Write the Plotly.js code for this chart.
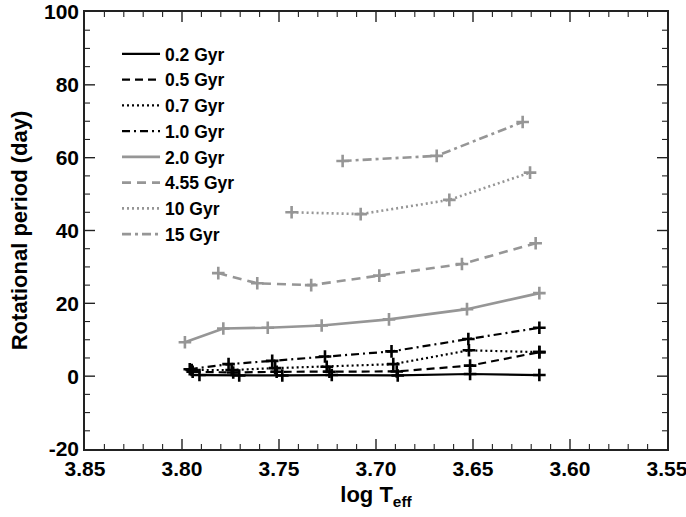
<!DOCTYPE html>
<html>
<head>
<meta charset="utf-8">
<script src="https://cdn.plot.ly/plotly-3.0.1.min.js"></script>
<style>html,body{margin:0;padding:0;background:#fff;}#chart{width:686px;height:517px;}</style>
</head>
<body>
<div id="chart"></div>
<script>
// ---- data ----
const ages = ["0.2 Gyr", "0.5 Gyr", "0.7 Gyr", "1.0 Gyr", "2.0 Gyr", "4.55 Gyr", "10 Gyr", "15 Gyr"];

const teff_02 = [3.791, 3.7705, 3.7483, 3.7228, 3.6888, 3.6515, 3.6158];
const per_02  = [0.3, 0.2, 0.2, 0.3, 0.2, 0.6, 0.3];

const teff_05 = [3.7945, 3.7736, 3.7512, 3.724, 3.6893, 3.6515, 3.6158];
const per_05  = [1.2, 1.0, 1.2, 1.2, 1.3, 2.9, 6.6];

const teff_07 = [3.795, 3.7744, 3.752, 3.7254, 3.6911, 3.6521, 3.6158];
const per_07  = [1.7, 1.7, 2.2, 2.6, 3.3, 7.1, 6.6];

const teff_10 = [3.796, 3.776, 3.7535, 3.7263, 3.692, 3.6524, 3.6158];
const per_10  = [1.9, 3.3, 4.2, 5.4, 6.8, 10.2, 13.3];

const teff_20 = [3.7985, 3.7787, 3.7558, 3.728, 3.6933, 3.6531, 3.6158];
const per_20  = [9.3, 13.1, 13.3, 13.9, 15.6, 18.4, 22.8];

const teff_455 = [3.7813, 3.7612, 3.7334, 3.6983, 3.6557, 3.6177];
const per_455  = [28.3, 25.5, 25.0, 27.6, 30.8, 36.5];

const teff_100 = [3.7435, 3.7079, 3.6622, 3.6206];
const per_100  = [45.0, 44.5, 48.4, 55.9];

const teff_150 = [3.7172, 3.6687, 3.6244];
const per_150  = [59.1, 60.5, 69.8];

const xTickVals = [3.85, 3.80, 3.75, 3.70, 3.65, 3.60, 3.55];
const xTickText = ["3.85", "3.80", "3.75", "3.70", "3.65", "3.60", "3.55"];
const yTickVals = [-20, 0, 20, 40, 60, 80, 100];
const yTickText = ["-20", "0", "20", "40", "60", "80", "100"];
const xMinorStep = 0.01;
const yMinorStep = 5;

// ---- styling ----
const BLACK = "#000000";
const GRAY = "#969696";
const series = [
  {x: teff_02,  y: per_02,  color: BLACK, dash: "solid",             w: 2.2},
  {x: teff_05,  y: per_05,  color: BLACK, dash: "8px,5px",           w: 2.2},
  {x: teff_07,  y: per_07,  color: BLACK, dash: "2px,3px",           w: 2.2},
  {x: teff_10,  y: per_10,  color: BLACK, dash: "8px,4px,2px,4px",   w: 2.2},
  {x: teff_20,  y: per_20,  color: GRAY,  dash: "solid",             w: 2.6},
  {x: teff_455, y: per_455, color: GRAY,  dash: "9px,6px",           w: 2.6},
  {x: teff_100, y: per_100, color: GRAY,  dash: "2px,3px",           w: 2.6},
  {x: teff_150, y: per_150, color: GRAY,  dash: "9px,4px,3px,4px",   w: 2.6}
];

const traces = [];
series.forEach((s, i) => {
  traces.push({
    x: s.x, y: s.y, type: "scatter", mode: "lines+markers",
    name: ages[i], showlegend: false,
    line: {color: s.color, width: s.w, dash: s.dash},
    marker: {symbol: "cross-thin", size: 9, color: s.color, line: {color: s.color, width: 2.6}}
  });
});
// legend entries (lines only, as in the reference)
series.forEach((s, i) => {
  traces.push({
    x: [null], y: [null], type: "scatter", mode: "lines",
    name: ages[i], showlegend: true,
    line: {color: s.color, width: s.w, dash: s.dash}
  });
});

const FONT = "Liberation Sans";
const TICKC = "#222";

// inside tick marks on all four sides (majors 10 px, minors 5 px)
const shapes = [];
function xTick(v, len, w) {
  shapes.push({type: "line", xref: "x", yref: "paper", ysizemode: "pixel", yanchor: 0,
    x0: v, x1: v, y0: 0, y1: len, line: {color: TICKC, width: w}});
  shapes.push({type: "line", xref: "x", yref: "paper", ysizemode: "pixel", yanchor: 1,
    x0: v, x1: v, y0: 0, y1: -len, line: {color: TICKC, width: w}});
}
function yTick(v, len, w) {
  shapes.push({type: "line", xref: "paper", yref: "y", xsizemode: "pixel", xanchor: 0,
    x0: 0, x1: len, y0: v, y1: v, line: {color: TICKC, width: w}});
  shapes.push({type: "line", xref: "paper", yref: "y", xsizemode: "pixel", xanchor: 1,
    x0: 0, x1: -len, y0: v, y1: v, line: {color: TICKC, width: w}});
}
const xLo = Math.min(...xTickVals), xHi = Math.max(...xTickVals);
const nx = Math.round((xHi - xLo) / xMinorStep);
for (let k = 1; k < nx; k++) {
  const v = +(xLo + k * xMinorStep).toFixed(4);
  const isMajor = xTickVals.some(t => Math.abs(t - v) < 1e-6);
  xTick(v, isMajor ? 10 : 5, isMajor ? 1.4 : 1.1);
}
const yLo = Math.min(...yTickVals), yHi = Math.max(...yTickVals);
const ny = Math.round((yHi - yLo) / yMinorStep);
for (let k = 1; k < ny; k++) {
  const v = yLo + k * yMinorStep;
  const isMajor = yTickVals.includes(v);
  yTick(v, isMajor ? 10 : 5, isMajor ? 1.4 : 1.1);
}

const axisCommon = {
  showgrid: false, zeroline: false,
  showline: true, linecolor: TICKC, linewidth: 1.5, mirror: true,
  ticks: "", ticklabeloverflow: "allow", ticklabelstandoff: 0,
  tickfont: {size: 21, color: "#000", family: FONT, weight: 700}
};

const layout = {
  width: 686, height: 517,
  margin: {l: 85, r: 19, t: 12, b: 68},
  paper_bgcolor: "#fff", plot_bgcolor: "#fff",
  font: {family: FONT, weight: 700, color: "#000"},
  showlegend: true,
  legend: {
    x: 0.055, y: 0.945, xanchor: "left", yanchor: "top",
    bgcolor: "rgba(0,0,0,0)", borderwidth: 0,
    font: {size: 17.5, family: FONT, weight: 700, color: "#000"},
    itemwidth: 38, tracegroupgap: 0
  },
  shapes: shapes,
  xaxis: Object.assign({}, axisCommon, {
    range: [3.85, 3.55],
    tickmode: "array", tickvals: xTickVals, ticktext: xTickText,
    title: {text: "log T<sub>eff</sub>", font: {size: 22, family: FONT, weight: 700}, standoff: 8}
  }),
  yaxis: Object.assign({}, axisCommon, {
    range: [-20, 100],
    tickmode: "array", tickvals: yTickVals, ticktext: yTickText,
    title: {text: "Rotational period (day)", font: {size: 22, family: FONT, weight: 700}, standoff: 10}
  })
};

Plotly.newPlot("chart", traces, layout, {displayModeBar: false});
</script>
</body>
</html>
